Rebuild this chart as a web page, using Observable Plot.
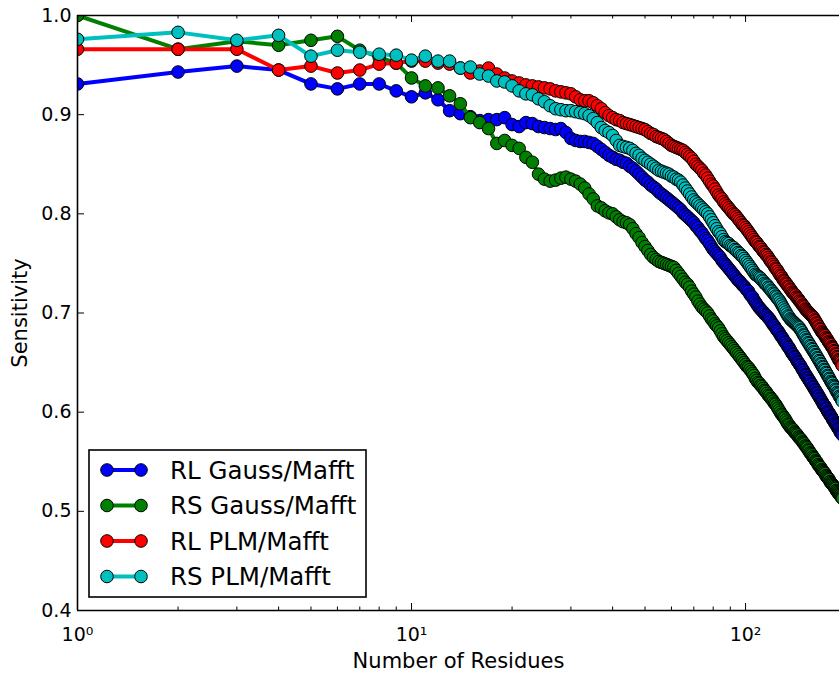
<!DOCTYPE html>
<html><head><meta charset="utf-8">
<script src="https://cdn.jsdelivr.net/npm/d3@7"></script>
<script src="https://cdn.jsdelivr.net/npm/@observablehq/plot@0.6"></script>
<style>
html,body{margin:0;padding:0;background:#fff;overflow:hidden}
#chart{position:relative;width:839px;height:675px}
</style></head><body><div id="chart"></div>
<script>
const seriesNames = ["RL Gauss/Mafft", "RS Gauss/Mafft", "RL PLM/Mafft", "RS PLM/Mafft"];
const seriesColors = ["#0000ff", "#008000", "#ff0000", "#00bfbf"];

// sensitivity at number of residues = 1, 2, 3, ...
const rlGauss = [
.931,.943,.949,.945,.931,.926,.931,.931,.924,.918,
.922,.915,.904,.901,.898,.894,.895,.895,.897,.890,
.888,.892,.891,.888,.887,.886,.885,.886,.882,.876,
.874,.873,.873,.872,.871,.868,.865,.862,.859,.857,
.855,.854,.852,.851,.848,.846,.843,.840,.837,.834,
.832,.829,.827,.825,.822,.820,.818,.816,.814,.812,
.810,.808,.806,.804,.801,.799,.797,.795,.793,.791,
.788,.786,.783,.781,.778,.775,.773,.770,.767,.764,
.762,.760,.758,.756,.753,.751,.749,.747,.745,.743,
.741,.739,.737,.735,.733,.732,.730,.728,.727,.725,
.723,.722,.719,.717,.716,.713,.711,.709,.707,.705,
.704,.702,.701,.699,.698,.697,.695,.694,.692,.690,
.688,.687,.685,.683,.682,.680,.678,.676,.675,.673,
.671,.670,.668,.666,.665,.663,.661,.659,.658,.656,
.655,.653,.651,.650,.648,.647,.645,.643,.642,.640,
.638,.637,.635,.634,.632,.631,.629,.628,.626,.625,
.623,.622,.620,.619,.617,.616,.614,.613,.611,.610,
.608,.607,.606,.604,.603,.601,.600,.599,.597,.596,
.595,.593,.592,.591,.589,.588,.587,.586,.584,.583,
.582,.580,.579,.578,.577
];
const rsGauss = [
1.000,.966,.974,.970,.975,.979,.965,.958,.952,.937,
.929,.927,.919,.911,.897,.892,.886,.871,.874,.869,
.866,.857,.852,.840,.835,.833,.834,.836,.837,.835,
.833,.830,.826,.820,.815,.808,.806,.803,.801,.800,
.797,.794,.792,.791,.789,.785,.780,.776,.771,.767,
.763,.759,.756,.754,.752,.751,.750,.749,.748,.747,
.746,.743,.740,.737,.734,.731,.729,.726,.722,.719,
.716,.712,.709,.706,.704,.702,.700,.697,.694,.692,
.689,.687,.685,.682,.679,.676,.674,.672,.670,.668,
.666,.664,.662,.660,.658,.656,.654,.652,.650,.648,
.646,.645,.643,.641,.639,.637,.634,.632,.630,.629,
.627,.626,.624,.622,.621,.619,.617,.616,.614,.613,
.611,.609,.608,.606,.604,.602,.600,.598,.597,.595,
.594,.592,.590,.588,.587,.585,.584,.583,.582,.580,
.579,.578,.577,.575,.574,.573,.572,.570,.569,.568,
.566,.565,.564,.562,.561,.559,.558,.557,.555,.554,
.553,.551,.550,.549,.547,.546,.545,.544,.542,.541,
.540,.539,.538,.536,.535,.534,.533,.532,.530,.529,
.528,.527,.526,.525,.524,.523,.521,.520,.519,.518,
.517,.516,.515,.514,.513
];
const rlPlm = [
.966,.966,.966,.945,.949,.942,.945,.951,.952,.954,
.954,.952,.951,.947,.942,.944,.947,.941,.937,.934,
.932,.930,.929,.928,.927,.926,.924,.923,.922,.921,
.918,.915,.914,.914,.912,.909,.906,.902,.899,.897,
.895,.894,.892,.891,.890,.889,.888,.887,.886,.885,
.883,.881,.880,.878,.877,.876,.875,.873,.871,.869,
.868,.867,.866,.865,.864,.862,.860,.858,.856,.853,
.850,.848,.846,.844,.841,.839,.836,.833,.830,.828,
.825,.822,.819,.817,.815,.812,.810,.808,.806,.804,
.802,.800,.799,.797,.795,.793,.791,.789,.788,.786,
.784,.782,.780,.778,.776,.774,.772,.771,.769,.767,
.766,.764,.762,.761,.759,.758,.756,.754,.752,.751,
.749,.747,.745,.744,.742,.740,.738,.737,.735,.733,
.732,.730,.729,.727,.726,.724,.723,.721,.720,.719,
.718,.716,.715,.714,.712,.711,.710,.708,.707,.706,
.704,.703,.702,.701,.700,.699,.698,.697,.696,.695,
.693,.692,.690,.689,.687,.686,.684,.683,.681,.680,
.679,.678,.677,.675,.674,.673,.671,.670,.669,.668,
.666,.665,.664,.662,.661,.659,.658,.656,.655,.653,
.652,.651,.650,.648,.647
];
const rsPlm = [
.976,.983,.975,.980,.959,.965,.963,.961,.960,.955,
.959,.954,.954,.947,.948,.941,.939,.934,.933,.929,
.924,.921,.920,.916,.913,.909,.906,.905,.904,.904,
.903,.902,.901,.899,.896,.892,.887,.884,.882,.879,
.874,.869,.868,.867,.866,.864,.861,.859,.856,.854,
.852,.850,.848,.846,.844,.843,.842,.841,.840,.838,
.837,.835,.834,.832,.829,.826,.823,.820,.817,.814,
.812,.810,.808,.806,.804,.802,.800,.797,.794,.791,
.788,.785,.782,.780,.777,.774,.772,.771,.770,.768,
.767,.766,.764,.763,.761,.760,.758,.757,.755,.753,
.751,.749,.747,.745,.743,.741,.739,.738,.737,.736,
.735,.733,.732,.730,.729,.728,.726,.725,.723,.722,
.720,.719,.717,.716,.714,.713,.711,.709,.707,.705,
.703,.701,.699,.697,.696,.694,.693,.692,.691,.690,
.689,.688,.687,.686,.685,.683,.682,.680,.678,.677,
.675,.673,.672,.670,.669,.667,.666,.664,.663,.661,
.660,.658,.657,.655,.654,.652,.651,.649,.648,.646,
.645,.643,.642,.640,.639,.637,.636,.634,.633,.631,
.630,.629,.627,.626,.625,.623,.622,.620,.619,.618,
.616,.615,.614,.612,.611
];
const seriesValues = [rlGauss, rsGauss, rlPlm, rsPlm];

const xMajorTicks = [1, 10, 100];
const xMajorLabels = ["10\u2070", "10\u00b9", "10\u00b2"];
const xMinorTicks = [2, 3, 4, 5, 6, 7, 8, 9, 20, 30, 40, 50, 60, 70, 80, 90];
const yTicks = [0.4, 0.5, 0.6, 0.7, 0.8, 0.9, 1.0];
const xTitle = "Number of Residues";
const yTitle = "Sensitivity";

const W = 839, H = 675, mL = 77, mR = 0, mT = 15, mB = 65;
const plotW = W - mL - mR, plotH = H - mT - mB;
const font = "DejaVu Sans, Bitstream Vera Sans, sans-serif";

const rows = seriesValues.map((vals, i) => vals.map((v, j) => ({n: j + 1, v, s: seriesNames[i]})));

const marks = [];
rows.forEach((r, i) => {
  marks.push(Plot.line(r, {x: "n", y: "v", stroke: seriesColors[i], strokeWidth: 4, clip: true}));
  marks.push(Plot.dot(r, {x: "n", y: "v", r: 6.3, fill: seriesColors[i], stroke: "black", strokeWidth: 1, clip: true}));
});
// ticks (inward, matplotlib classic)
const tk = 7, tkm = 3.5;
marks.push(Plot.ruleX(xMajorTicks, {x: d => d, insetTop: plotH - tk, stroke: "black", strokeWidth: 1}));
marks.push(Plot.ruleX(xMajorTicks, {x: d => d, insetBottom: plotH - tk, stroke: "black", strokeWidth: 1}));
marks.push(Plot.ruleX(xMinorTicks, {x: d => d, insetTop: plotH - tkm, stroke: "black", strokeWidth: 1}));
marks.push(Plot.ruleX(xMinorTicks, {x: d => d, insetBottom: plotH - tkm, stroke: "black", strokeWidth: 1}));
marks.push(Plot.ruleY(yTicks, {y: d => d, insetRight: plotW - tk, stroke: "black", strokeWidth: 1}));
// spines
marks.push(Plot.ruleX([xMajorTicks[0]], {stroke: "black", strokeWidth: 1.6}));
marks.push(Plot.ruleY([yTicks[0], yTicks[yTicks.length - 1]], {stroke: "black", strokeWidth: 1.6}));
// titles
marks.push(Plot.text([xTitle], {frameAnchor: "bottom", dy: 57, text: d => d, fontSize: 21, fill: "black", textAnchor: "middle"}));
marks.push(Plot.text([yTitle], {frameAnchor: "left", dx: -57, rotate: -90, text: d => d, fontSize: 21, fill: "black", textAnchor: "middle", lineAnchor: "middle"}));

const chart = Plot.plot({
  width: W, height: H,
  marginLeft: mL, marginRight: mR, marginTop: mT, marginBottom: mB,
  style: {fontFamily: font, fontSize: "19px", color: "black", background: "white"},
  x: {type: "log", domain: [1, 191.1], ticks: xMajorTicks, tickFormat: d => xMajorLabels[xMajorTicks.indexOf(d)], tickSize: 0, tickPadding: 17, label: null},
  y: {domain: [0.4, 1.0], ticks: yTicks, tickFormat: d3.format(".1f"), tickSize: 0, tickPadding: 6, label: null},
  marks
});
document.getElementById("chart").appendChild(chart);

// legend
const svg = d3.select(chart.tagName.toLowerCase() === "svg" ? chart : chart.querySelector("svg"));
const lg = svg.append("g").attr("font-family", font).attr("text-anchor", "start");
const box = {x: 89, y: 450, w: 277, h: 147};
lg.append("rect").attr("x", box.x).attr("y", box.y).attr("width", box.w).attr("height", box.h)
  .attr("fill", "white").attr("stroke", "black").attr("stroke-width", 1.6);
seriesNames.forEach((name, i) => {
  const cy = 470 + i * 35.5;
  const g = lg.append("g");
  g.append("line").attr("x1", 107).attr("x2", 141).attr("y1", cy).attr("y2", cy)
    .attr("stroke", seriesColors[i]).attr("stroke-width", 4);
  [107, 141].forEach(cx => g.append("circle").attr("cx", cx).attr("cy", cy).attr("r", 6.3)
    .attr("fill", seriesColors[i]).attr("stroke", "black").attr("stroke-width", 1));
  g.append("text").attr("x", 170).attr("y", cy + 8.5).attr("font-size", 24.5).attr("fill", "black")
    .attr("text-anchor", "start").text(name);
});
</script></body></html>
